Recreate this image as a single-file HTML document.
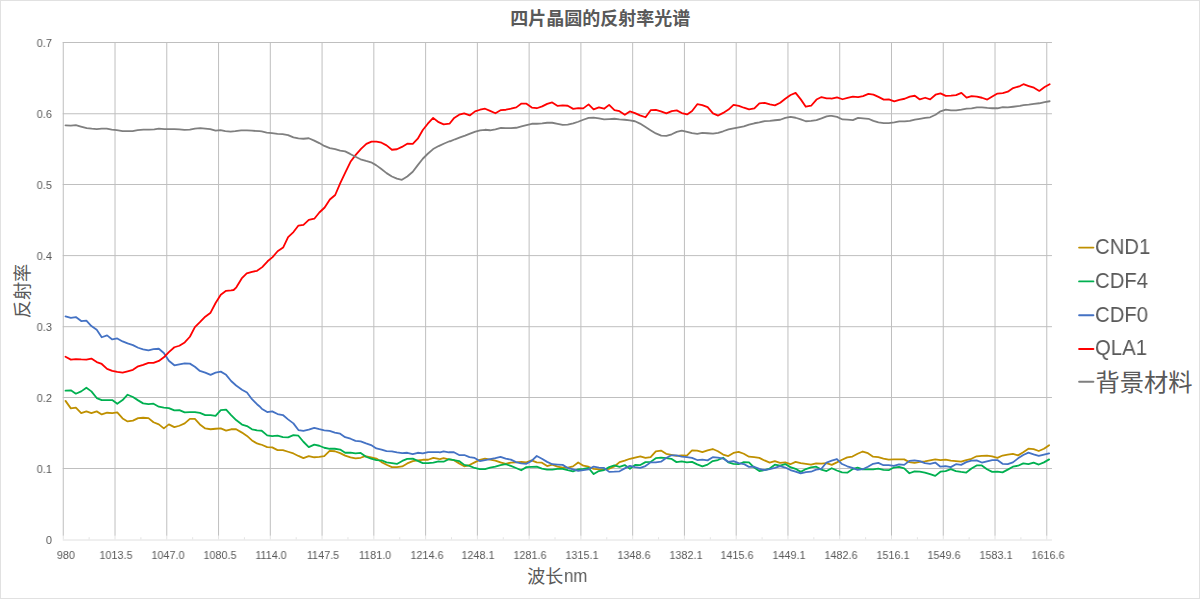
<!DOCTYPE html><html><head><meta charset="utf-8"><title>chart</title><style>
html,body{margin:0;padding:0;background:#fff}
body{width:1200px;height:599px;position:relative;overflow:hidden;font-family:"Liberation Sans",sans-serif;color:#595959}
.t{position:absolute;white-space:nowrap;line-height:1;will-change:transform}
.yl{font-size:11.25px;text-align:right;width:40px;left:11.6px;transform:scaleX(0.97);transform-origin:100% 50%}
.xl{font-size:11.25px;text-align:center;width:60px;top:549.6px;transform:scaleX(0.96);transform-origin:50% 50%}
.lg{font-size:21.7px;left:1095.2px;transform:scaleX(0.937);transform-origin:0 50%}
.xt{font-size:17.7px;left:563.5px;top:567.8px;transform:scaleX(0.95);transform-origin:0 50%}
</style></head><body>
<svg width="1200" height="599" viewBox="0 0 1200 599" style="position:absolute;left:0;top:0"><rect x="0" y="0" width="1200" height="599" fill="#fff"/><rect x="0.5" y="0.5" width="1199" height="598" fill="none" stroke="#e1e1e1" stroke-width="1"/><path d="M62.75 468.50H1051.96M62.75 397.50H1051.96M62.75 326.70H1051.96M62.75 255.60H1051.96M62.75 184.50H1051.96M62.75 113.75H1051.96M62.75 42.50H1051.96M63.25 42.00V535.80M115.02 42.00V535.80M166.78 42.00V535.80M218.55 42.00V535.80M270.31 42.00V535.80M322.07 42.00V535.80M373.84 42.00V535.80M425.61 42.00V535.80M477.37 42.00V535.80M529.13 42.00V535.80M580.90 42.00V535.80M632.66 42.00V535.80M684.43 42.00V535.80M736.20 42.00V535.80M787.96 42.00V535.80M839.73 42.00V535.80M891.49 42.00V535.80M943.25 42.00V535.80M995.02 42.00V535.80M1046.78 42.00V535.80" stroke="#bfbfbf" stroke-width="1" fill="none"/><path d="M62.75 540.00H1051.96" stroke="#e0e0e0" stroke-width="1" fill="none"/><path d="M63.25 535.80V539.50M89.13 537.20V539.50M115.02 535.80V539.50M140.90 537.20V539.50M166.78 535.80V539.50M192.66 537.20V539.50M218.55 535.80V539.50M244.43 537.20V539.50M270.31 535.80V539.50M296.19 537.20V539.50M322.07 535.80V539.50M347.96 537.20V539.50M373.84 535.80V539.50M399.72 537.20V539.50M425.61 535.80V539.50M451.49 537.20V539.50M477.37 535.80V539.50M503.25 537.20V539.50M529.13 535.80V539.50M555.02 537.20V539.50M580.90 535.80V539.50M606.78 537.20V539.50M632.66 535.80V539.50M658.55 537.20V539.50M684.43 535.80V539.50M710.31 537.20V539.50M736.20 535.80V539.50M762.08 537.20V539.50M787.96 535.80V539.50M813.84 537.20V539.50M839.73 535.80V539.50M865.61 537.20V539.50M891.49 535.80V539.50M917.37 537.20V539.50M943.25 535.80V539.50M969.14 537.20V539.50M995.02 535.80V539.50M1020.90 537.20V539.50M1046.78 535.80V539.50" stroke="#e4e4e4" stroke-width="1" fill="none"/><path d="M65.51 400.88L70.85 408.39L75.86 407.72L81.20 413.06L86.38 411.39L91.39 413.06L96.73 411.39L101.74 414.40L107.08 412.73L112.25 413.06L117.26 412.40L122.60 418.41L127.61 421.41L132.95 420.58L138.13 418.07L143.14 417.74L148.48 418.07L153.49 422.25L158.83 424.42L163.84 428.42L168.85 424.42L174.36 427.09L179.37 425.75L184.71 423.41L189.88 418.91L194.89 418.91L199.90 424.42L205.24 428.42L210.58 429.26L215.59 428.76L220.77 428.42L226.11 430.59L231.12 429.26L236.13 429.26L241.97 432.60L246.98 435.93L251.99 440.44L256.99 443.45L260.00 444.28L261.69 444.75L267.20 447.09L272.20 447.42L277.55 450.09L282.89 450.09L288.06 451.76L293.41 453.43L298.41 455.93L303.42 458.11L308.76 456.10L314.27 457.27L319.28 456.94L324.29 456.10L329.63 450.93L334.81 451.26L340.15 453.10L345.16 455.60L350.50 457.27L355.51 458.44L360.68 457.77L365.19 456.10L371.04 457.44L376.38 458.61L381.55 462.11L386.56 464.78L391.90 467.12L396.91 467.12L402.25 466.45L407.26 463.45L412.77 461.11L417.78 460.44L422.79 459.77L428.13 459.77L433.31 457.94L438.65 458.94L440.00 459.03L443.59 458.20L448.76 459.37L453.94 460.20L459.12 463.37L464.29 466.29L469.47 465.04L474.64 462.37L479.82 459.87L484.99 458.70L490.17 459.62L495.34 460.53L500.52 462.37L505.69 463.79L510.87 462.54L516.04 462.37L521.22 461.87L526.39 462.37L531.57 460.45L536.74 462.37L541.94 462.70L547.11 466.04L552.29 464.71L557.46 466.54L562.64 467.71L567.81 467.55L572.99 466.38L578.16 462.54L583.34 465.71L588.51 466.71L593.69 468.80L598.86 469.38L604.04 469.38L609.22 468.80L614.39 466.54L619.57 462.12L624.74 460.70L629.92 458.78L635.11 457.53L640.28 456.36L645.46 457.95L650.63 457.11L655.81 451.35L660.98 450.60L666.16 453.77L671.34 454.86L676.51 455.86L681.69 455.28L686.86 455.53L692.04 450.43L697.21 450.68L702.39 452.10L707.56 450.43L712.74 449.02L717.91 451.27L723.11 454.61L728.28 456.03L733.46 452.94L738.63 451.94L743.81 453.77L748.98 456.69L754.16 457.20L759.33 457.86L764.51 460.45L769.68 462.70L774.86 461.04L780.03 462.87L785.21 462.37L790.38 464.21L795.56 461.87L800.73 463.21L805.91 463.79L811.02 464.54L816.19 463.37L821.37 463.71L826.54 463.04L831.72 464.87L836.89 462.37L842.07 459.70L847.25 457.36L852.42 456.53L857.60 453.77L862.77 451.52L867.95 453.19L873.12 456.69L878.30 457.20L883.47 458.53L888.65 459.70L893.82 459.37L899.00 459.37L904.19 459.37L909.37 462.12L914.54 462.95L919.72 461.87L924.89 461.29L930.07 460.37L935.24 459.37L940.42 460.03L945.59 459.70L950.77 460.70L955.94 461.20L961.12 461.70L966.29 460.03L971.47 458.78L976.64 456.28L981.82 455.86L986.99 455.53L992.20 456.36L997.38 457.86L1002.55 455.53L1007.73 454.69L1012.90 453.86L1018.08 455.36L1023.26 452.19L1028.43 448.68L1033.61 449.18L1038.78 451.02L1043.96 448.76L1049.13 445.18" stroke="#bf9000" stroke-width="1.8" fill="none" stroke-linejoin="round" stroke-linecap="round"/><path d="M65.51 390.69L70.85 390.36L75.86 393.70L81.20 391.36L86.38 387.69L91.39 391.36L96.73 398.04L101.74 400.04L107.08 400.04L112.25 400.04L117.26 403.71L122.60 400.04L127.61 394.70L132.95 397.04L138.13 400.38L143.14 403.38L148.48 404.05L153.49 403.71L158.83 406.72L163.84 407.55L168.85 408.06L174.36 410.39L179.37 410.06L184.71 412.40L189.88 412.06L194.89 412.06L199.90 412.90L205.24 415.07L210.58 415.07L215.59 415.90L220.77 410.06L226.11 409.56L231.12 415.07L236.13 420.08L241.97 424.58L246.98 426.09L251.99 429.26L256.99 430.43L260.00 430.59L261.69 430.73L267.20 435.40L272.20 436.07L277.55 435.57L282.89 437.07L288.06 437.40L293.41 435.07L298.41 435.73L303.42 441.74L308.76 447.09L314.27 444.58L319.28 445.75L324.29 447.75L329.63 448.76L334.81 448.76L340.15 449.59L345.16 452.76L350.50 452.60L355.51 453.43L360.68 452.93L366.03 456.77L371.04 458.61L376.38 460.11L381.55 460.28L386.56 462.45L391.90 463.11L396.91 463.95L402.25 460.94L407.26 458.94L412.77 458.61L417.78 460.94L422.79 463.11L428.13 463.11L433.31 462.61L438.65 461.44L440.00 461.54L443.59 461.70L448.76 459.20L453.94 460.03L459.12 461.04L464.29 464.87L469.47 465.88L474.64 467.96L479.82 469.22L484.99 469.22L490.17 467.71L495.34 466.54L500.52 465.04L505.69 464.21L510.87 465.88L516.04 467.96L521.22 470.22L526.39 467.13L531.57 466.96L536.74 466.71L541.94 468.55L547.11 469.63L552.29 469.63L557.46 468.80L562.64 468.80L567.81 470.22L572.99 471.30L578.16 469.38L583.34 468.80L588.51 467.96L593.69 474.06L598.86 471.05L604.04 470.05L609.22 467.13L614.39 465.46L619.57 466.88L624.74 465.04L629.92 468.80L635.11 464.87L640.28 465.04L645.46 462.12L650.63 461.87L655.81 458.20L660.98 457.53L666.16 458.20L671.34 458.78L676.51 462.12L681.69 461.29L686.86 462.37L692.04 461.87L697.21 464.37L702.39 466.29L707.56 464.62L712.74 461.04L717.91 460.03L723.11 457.70L728.28 462.37L733.46 463.79L738.63 464.21L743.81 462.12L748.98 462.37L754.16 467.55L759.33 471.05L764.51 470.22L769.68 468.55L774.86 464.71L780.03 465.71L785.21 464.04L790.38 467.13L795.56 468.80L800.73 471.89L805.91 469.05L811.02 467.38L816.19 466.71L821.37 469.63L826.54 471.05L831.72 468.21L836.89 470.47L842.07 472.39L847.25 472.72L852.42 469.22L857.60 467.55L862.77 469.38L867.95 469.38L873.12 469.38L878.30 468.55L883.47 469.88L888.65 470.22L893.82 467.55L899.00 466.88L904.19 468.38L909.37 473.22L914.54 471.30L919.72 471.72L924.89 472.72L930.07 474.22L935.24 475.89L940.42 471.72L945.59 471.05L950.77 469.05L955.94 471.05L961.12 471.89L966.29 472.55L971.47 468.55L976.64 465.46L981.82 465.46L986.99 469.22L992.20 471.89L997.38 471.55L1002.55 472.39L1007.73 469.63L1012.90 466.71L1018.08 465.71L1023.26 463.37L1028.43 464.21L1033.61 462.54L1038.78 464.54L1043.96 462.37L1049.13 459.37" stroke="#00b050" stroke-width="1.8" fill="none" stroke-linejoin="round" stroke-linecap="round"/><path d="M65.51 316.38L70.85 317.88L75.86 317.05L81.20 321.05L86.38 320.72L91.39 326.06L96.73 329.73L101.74 337.25L107.08 335.41L112.25 339.42L117.26 338.41L122.60 341.42L127.61 343.42L132.95 345.09L138.13 347.76L143.14 349.27L148.48 350.43L153.49 349.10L158.83 348.76L163.84 352.94L168.85 360.78L174.36 365.29L179.37 364.29L184.71 363.29L189.88 363.62L194.89 366.79L199.90 370.97L205.24 372.64L210.58 374.81L215.59 372.64L220.77 371.64L226.11 374.81L231.12 380.98L236.13 385.49L241.97 389.67L246.98 392.53L251.99 399.21L256.99 404.22L260.00 406.72L261.69 408.69L267.20 412.03L272.20 411.36L277.55 414.03L282.89 415.03L288.06 419.37L293.41 423.38L298.41 430.06L303.42 430.89L308.76 429.72L314.27 427.89L319.28 429.22L324.29 430.39L329.63 430.89L334.81 432.56L340.15 433.73L345.16 437.24L350.50 438.74L355.51 440.91L360.68 441.41L366.03 443.41L371.04 445.08L376.38 448.42L381.55 449.59L386.56 451.09L391.90 451.43L396.91 452.43L402.25 453.10L407.26 452.76L412.77 454.10L417.78 452.76L422.79 453.43L428.13 452.10L433.31 452.10L438.65 452.10L440.00 452.35L443.59 451.44L448.76 452.27L453.94 452.27L459.12 455.03L464.29 455.03L469.47 457.20L474.64 457.95L479.82 461.04L484.99 460.03L490.17 459.12L495.34 458.20L500.52 456.94L505.69 458.70L510.87 459.62L516.04 462.12L521.22 463.37L526.39 463.79L531.57 460.87L536.74 456.03L541.94 458.78L547.11 461.87L552.29 464.21L557.46 464.54L562.64 464.87L567.81 467.96L572.99 469.38L578.16 470.88L583.34 470.05L588.51 469.38L593.69 466.54L598.86 467.55L604.04 467.96L609.22 471.89L614.39 471.72L619.57 471.30L624.74 468.38L629.92 465.88L635.11 467.21L640.28 467.88L645.46 466.04L650.63 462.37L655.81 462.37L660.98 461.70L666.16 457.95L671.34 455.28L676.51 455.44L681.69 456.53L686.86 457.20L692.04 457.95L697.21 460.03L702.39 459.70L707.56 460.37L712.74 457.20L717.91 457.53L723.11 458.53L728.28 461.87L733.46 461.20L738.63 463.21L743.81 464.04L748.98 466.88L754.16 466.71L759.33 468.80L764.51 470.22L769.68 469.22L774.86 467.96L780.03 466.04L785.21 467.55L790.38 470.05L795.56 471.55L800.73 473.39L805.91 472.14L811.02 471.72L816.19 469.63L821.37 468.80L826.54 462.54L831.72 460.70L836.89 459.03L842.07 464.04L847.25 466.29L852.42 467.96L857.60 469.88L862.77 469.22L867.95 466.71L873.12 463.79L878.30 462.87L883.47 465.21L888.65 465.04L893.82 465.88L899.00 464.37L904.19 464.87L909.37 460.87L914.54 460.37L919.72 461.20L924.89 463.21L930.07 463.79L935.24 462.54L940.42 466.71L945.59 466.21L950.77 467.13L955.94 464.21L961.12 464.87L966.29 462.12L971.47 460.70L976.64 460.37L981.82 462.54L986.99 461.29L992.20 460.20L997.38 460.03L1002.55 463.79L1007.73 464.21L1012.90 462.37L1018.08 458.36L1023.26 455.03L1028.43 452.69L1033.61 454.36L1038.78 455.86L1043.96 454.52L1049.13 453.36" stroke="#4472c4" stroke-width="1.8" fill="none" stroke-linejoin="round" stroke-linecap="round"/><path d="M65.51 356.78L70.85 359.62L75.86 359.12L81.20 359.45L86.38 359.62L91.39 358.61L96.73 362.12L101.74 363.96L107.08 368.80L112.25 370.80L117.26 371.97L122.60 372.64L127.61 371.30L132.95 369.80L138.13 366.29L143.14 364.79L148.48 362.95L153.49 362.79L158.83 360.95L163.84 357.28L168.85 352.10L174.36 347.26L179.37 345.76L184.71 342.42L189.88 336.74L194.89 327.06L199.90 322.22L205.24 316.71L210.58 312.70L215.59 303.02L220.77 294.67L226.11 290.83L231.12 290.33L233.62 290.00L236.36 287.32L241.70 278.47L246.71 273.46L252.05 271.79L257.06 270.79L262.24 267.12L267.58 261.28L272.59 257.10L277.60 251.26L283.11 247.59L288.11 237.07L293.46 232.06L298.46 225.55L303.47 224.88L308.81 219.87L314.32 218.71L319.33 212.53L324.67 207.52L329.85 199.51L335.19 195.00L340.15 183.47L345.49 172.12L350.50 161.77L355.51 155.09L361.02 148.91L366.36 143.91L371.54 141.57L376.54 141.57L381.55 142.74L386.56 145.41L391.90 149.75L396.91 149.25L401.92 146.91L407.26 143.74L412.77 143.91L417.78 138.73L422.79 130.05L427.80 123.71L433.14 117.86L438.65 122.20L443.66 124.37L449.50 123.71L454.19 117.91L459.20 114.74L464.21 113.41L469.72 115.41L475.06 111.40L480.07 109.73L485.08 108.73L490.08 110.90L495.43 113.24L500.93 110.07L505.94 109.73L510.95 108.73L516.29 107.40L521.47 103.56L526.48 103.72L531.82 107.56L536.83 108.23L542.17 106.39L547.18 103.89L552.19 102.39L557.70 105.89L562.70 105.39L567.71 105.73L573.22 108.90L578.23 108.06L583.24 108.40L588.58 104.39L593.59 109.40L598.93 107.40L604.11 108.73L609.12 104.89L614.46 110.07L619.47 111.24L624.81 114.74L629.82 111.40L634.99 113.07L640.00 115.41L645.53 117.25L650.87 110.07L655.88 109.90L660.88 111.40L666.39 113.41L671.74 111.07L676.74 110.40L681.75 113.07L687.10 114.41L692.10 111.07L697.28 104.22L702.29 105.06L707.63 107.06L712.97 113.41L718.15 115.58L723.16 112.90L728.50 109.57L733.51 104.89L738.85 105.89L743.86 107.73L749.03 109.40L754.37 108.40L759.38 103.39L764.72 102.89L769.90 104.39L774.91 105.39L780.25 102.72L785.26 98.71L790.60 95.04L795.61 92.87L800.78 99.38L805.79 106.73L811.14 105.73L816.48 99.55L821.49 97.05L826.66 98.38L830.00 98.38L831.69 98.58L837.03 97.41L842.54 99.25L847.55 97.91L852.89 96.58L858.06 97.08L863.07 96.08L868.41 93.91L873.42 94.57L878.43 96.91L883.77 99.58L888.78 99.42L894.29 101.42L899.30 99.92L904.64 98.75L909.82 96.58L914.82 95.74L919.83 99.42L925.18 97.75L930.18 99.42L935.53 94.74L940.53 93.41L945.71 95.91L951.05 95.58L956.06 95.08L961.40 92.90L966.58 97.58L971.59 96.08L976.93 96.58L981.94 97.75L987.28 99.58L992.29 96.58L997.46 93.57L1002.80 93.07L1007.81 91.74L1013.16 88.06L1020.00 86.06L1023.44 84.22L1028.78 86.06L1033.96 87.73L1039.30 90.90L1044.64 87.06L1049.65 84.22" stroke="#ff0000" stroke-width="1.8" fill="none" stroke-linejoin="round" stroke-linecap="round"/><path d="M65.51 125.38L70.85 125.71L75.86 125.21L80.87 126.54L86.71 128.05L91.72 128.71L96.73 129.05L101.74 128.71L106.74 128.71L111.75 129.55L116.76 130.22L122.60 131.05L127.61 131.22L132.62 131.05L137.63 130.05L143.47 129.72L149.32 129.72L154.32 129.38L158.83 128.71L164.34 129.22L169.35 129.05L174.36 129.05L179.37 129.38L184.37 129.88L189.88 129.72L194.89 128.55L200.23 128.21L205.24 128.55L210.25 129.05L215.59 130.55L220.60 130.05L225.28 131.05L230.62 131.55L235.29 131.22L241.14 130.38L246.98 130.38L251.99 130.72L259.50 131.22L261.69 131.39L266.69 132.55L272.04 133.22L277.55 133.89L282.55 134.22L288.06 135.06L293.41 137.40L298.41 138.40L303.42 138.73L308.76 138.23L314.27 140.57L319.28 143.07L324.29 145.91L329.80 148.08L335.14 149.08L340.15 150.58L345.16 151.42L350.17 153.92L355.51 156.76L360.52 159.27L366.03 160.93L371.04 162.27L376.04 165.11L381.05 168.78L386.56 173.12L391.90 176.46L396.91 178.63L401.92 179.80L407.26 176.46L412.77 171.79L417.78 165.11L422.79 158.76L427.80 153.76L433.14 149.08L438.65 146.08L443.66 143.74L449.50 141.24L450.02 141.29L455.03 139.28L460.03 137.45L465.04 135.61L470.05 133.61L475.39 131.60L480.07 130.43L485.08 129.77L490.08 130.27L495.43 129.43L500.93 127.93L505.94 128.10L510.95 128.10L516.29 127.76L521.47 126.43L526.48 125.09L531.82 123.76L536.83 123.76L542.17 123.42L547.18 122.75L552.19 122.75L557.70 123.92L562.70 124.92L567.71 124.59L573.22 123.42L578.23 121.75L583.24 119.75L588.58 117.91L593.59 117.58L598.93 118.41L604.11 119.42L609.12 119.08L614.46 118.75L619.47 119.42L624.81 119.75L629.82 120.42L634.99 121.25L640.00 123.59L645.53 127.10L650.87 130.43L655.88 133.44L661.22 135.61L666.39 135.94L671.74 134.27L676.74 131.94L681.75 130.60L687.10 131.77L692.10 133.11L697.28 133.94L702.29 132.94L707.63 133.27L712.97 133.61L718.15 132.77L723.16 131.27L728.50 129.43L733.51 128.26L738.85 127.26L743.86 126.43L749.03 124.59L754.37 123.26L759.38 122.42L764.72 121.09L769.90 120.92L774.91 120.25L780.25 119.75L785.26 117.91L790.60 116.91L795.61 117.75L800.78 119.42L805.79 121.25L811.14 120.92L816.48 120.08L821.49 118.41L826.66 116.41L830.00 115.91L831.69 115.94L837.03 116.94L842.54 119.45L847.55 119.62L852.89 120.12L858.06 117.95L863.07 118.28L868.41 118.78L873.42 120.95L878.43 122.45L883.77 123.12L888.78 123.12L894.29 122.45L899.30 121.45L904.64 121.45L909.82 120.95L914.82 119.62L919.83 118.78L925.18 117.78L930.18 117.28L935.53 114.77L940.53 111.27L945.71 109.60L951.05 110.43L956.06 110.43L961.40 109.60L966.58 108.60L971.59 108.43L976.93 107.43L981.94 107.43L987.28 107.93L992.29 108.26L997.46 108.26L1002.80 107.10L1007.81 107.43L1013.16 106.76L1020.00 105.93L1023.44 105.09L1028.78 104.59L1033.96 103.92L1039.30 103.26L1044.64 102.09L1049.65 101.25" stroke="#7f7f7f" stroke-width="1.8" fill="none" stroke-linejoin="round" stroke-linecap="round"/><text x="510.2" y="24.8" font-size="18" font-weight="bold" fill="#595959" font-family="&quot;Liberation Sans&quot;, &quot;Noto Sans CJK SC&quot;, sans-serif">四片晶圆的反射率光谱</text><text transform="translate(28.7 318.3) rotate(-90)" font-size="18.2" fill="#595959" font-family="&quot;Liberation Sans&quot;, &quot;Noto Sans CJK SC&quot;, sans-serif">反射率</text><text x="527.3" y="583.1" font-size="18" fill="#595959" font-family="&quot;Liberation Sans&quot;, &quot;Noto Sans CJK SC&quot;, sans-serif">波长</text><text x="1095.4" y="390.5" font-size="24.3" fill="#595959" font-family="&quot;Liberation Sans&quot;, &quot;Noto Sans CJK SC&quot;, sans-serif">背景材料</text><path d="M1079.1 247.6H1093.4" stroke="#bf9000" stroke-width="1.9" stroke-linecap="round"/><path d="M1079.1 281.4H1093.4" stroke="#00b050" stroke-width="1.9" stroke-linecap="round"/><path d="M1079.1 315.2H1093.4" stroke="#4472c4" stroke-width="1.9" stroke-linecap="round"/><path d="M1079.1 349.0H1093.4" stroke="#ff0000" stroke-width="1.9" stroke-linecap="round"/><path d="M1079.1 381.8H1093.4" stroke="#7f7f7f" stroke-width="1.9" stroke-linecap="round"/></svg>
<div class="t yl" style="top:534.60px">0</div>
<div class="t yl" style="top:463.60px">0.1</div>
<div class="t yl" style="top:392.60px">0.2</div>
<div class="t yl" style="top:321.60px">0.3</div>
<div class="t yl" style="top:250.60px">0.4</div>
<div class="t yl" style="top:179.60px">0.5</div>
<div class="t yl" style="top:108.60px">0.6</div>
<div class="t yl" style="top:37.60px">0.7</div>
<div class="t xl" style="left:35.80px">980</div>
<div class="t xl" style="left:86.11px">1013.5</div>
<div class="t xl" style="left:137.88px">1047.0</div>
<div class="t xl" style="left:189.65px">1080.5</div>
<div class="t xl" style="left:241.41px">1114.0</div>
<div class="t xl" style="left:293.18px">1147.5</div>
<div class="t xl" style="left:344.94px">1181.0</div>
<div class="t xl" style="left:396.71px">1214.6</div>
<div class="t xl" style="left:448.47px">1248.1</div>
<div class="t xl" style="left:500.24px">1281.6</div>
<div class="t xl" style="left:552.00px">1315.1</div>
<div class="t xl" style="left:603.76px">1348.6</div>
<div class="t xl" style="left:655.53px">1382.1</div>
<div class="t xl" style="left:707.30px">1415.6</div>
<div class="t xl" style="left:759.06px">1449.1</div>
<div class="t xl" style="left:810.83px">1482.6</div>
<div class="t xl" style="left:862.59px">1516.1</div>
<div class="t xl" style="left:914.36px">1549.6</div>
<div class="t xl" style="left:966.12px">1583.1</div>
<div class="t xl" style="left:1017.88px">1616.6</div>
<div class="t lg" style="top:235.90px">CND1</div>
<div class="t lg" style="top:269.70px">CDF4</div>
<div class="t lg" style="top:303.50px">CDF0</div>
<div class="t lg" style="top:337.30px">QLA1</div>
<div class="t xt">nm</div>
</body></html>
